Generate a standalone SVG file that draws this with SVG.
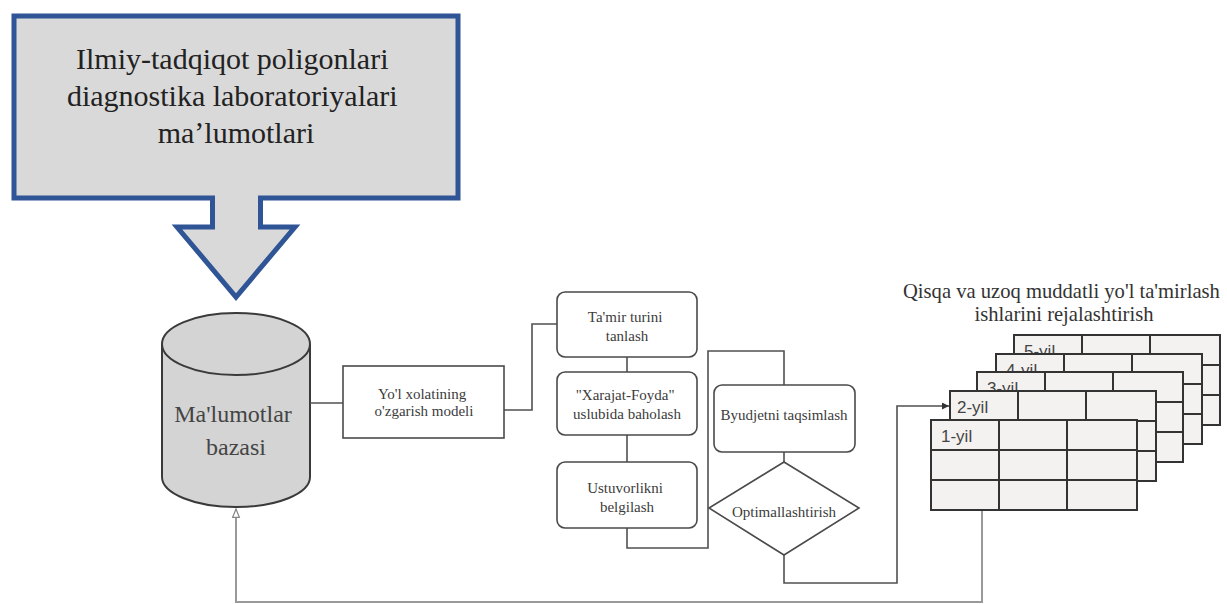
<svg xmlns="http://www.w3.org/2000/svg" xmlns:xlink="http://www.w3.org/1999/xlink" width="1227" height="604" viewBox="0 0 1227 604">
  <style>
    .serif { font-family: "Liberation Serif", "Times New Roman", serif; }
    .sans { font-family: "Liberation Sans", Arial, sans-serif; }
    .box { fill: #ffffff; stroke: #4a4a4a; stroke-width: 1.6; }
    .small { font-size: 15px; fill: #3c3c3c; text-anchor: middle; }
    .conn { fill: none; stroke: #505050; stroke-width: 1.6; }
    .feedback { fill: none; stroke: #999999; stroke-width: 2; }
    .sheet { fill: #f3f2f1; stroke: #333333; stroke-width: 2; }
    .grid { stroke: #333333; stroke-width: 2; }
    .yr { font-size: 17px; fill: #444444; }
  </style>
  <defs>
    <marker id="arrowFilled" viewBox="0 0 10 10" refX="10" refY="5" markerWidth="7" markerHeight="7" markerUnits="userSpaceOnUse" orient="auto">
      <path d="M0,0 L10,5 L0,10 Z" fill="#333333"/>
    </marker>
    <marker id="arrowOpen" viewBox="0 0 12 10" refX="11" refY="5" markerWidth="10" markerHeight="9" markerUnits="userSpaceOnUse" orient="auto">
      <path d="M1,1 L11,5 L1,9 Z" fill="#ffffff" stroke="#888888" stroke-width="1.5"/>
    </marker>
    <g id="sheet">
      <rect class="sheet" x="0" y="0" width="206" height="90"/>
      <line class="grid" x1="68" y1="0" x2="68" y2="90"/>
      <line class="grid" x1="136" y1="0" x2="136" y2="90"/>
      <line class="grid" x1="0" y1="30" x2="206" y2="30"/>
      <line class="grid" x1="0" y1="60" x2="206" y2="60"/>
    </g>
  </defs>

  <rect width="1227" height="604" fill="#ffffff"/>

  <!-- source data callout -->
  <g id="source-callout">
    <path d="M14,16 H458 V198 H260.5 V227 H295 L236,297 L177,227 H212.5 V198 H14 Z" fill="#d9d9d9" stroke="#2f5597" stroke-width="5" stroke-linejoin="miter"/>
    <text class="serif" x="236" font-size="30" fill="#222222" text-anchor="middle">
      <tspan x="236" y="69">Ilmiy-tadqiqot poligonlari</tspan>
      <tspan x="236" y="106">diagnostika laboratoriyalari</tspan>
      <tspan x="236" y="143">maʼlumotlari</tspan>
    </text>
  </g>

  <!-- database -->
  <g id="database">
    <path d="M162,344 V477 A74,30 0 0 0 310,477 V344" fill="#d4d4d4" stroke="#3a3a3a" stroke-width="2"/>
    <ellipse cx="236" cy="344" rx="74" ry="31" fill="#d4d4d4" stroke="#3a3a3a" stroke-width="2"/>
    <text class="serif" font-size="24" fill="#444444" text-anchor="middle">
      <tspan x="236" y="422">Ma'lumotlar</tspan>
      <tspan x="236" y="455">bazasi</tspan>
    </text>
  </g>

  <!-- connectors -->
  <g id="connectors">
    <path class="conn" d="M310,403 H343"/>
    <path class="conn" d="M504,410 H532 V324 H557"/>
    <path class="conn" d="M627,357 V372"/>
    <path class="conn" d="M627,435 V462"/>
    <path class="conn" d="M627,528 V548 H708 V351 H784 V385"/>
    <path class="conn" d="M784,452 V462"/>
    <path class="conn" d="M784,555 V583 H897 V406 H949" marker-end="url(#arrowFilled)"/>
    <path class="feedback" d="M982,511 V602 H236 V509" marker-end="url(#arrowOpen)"/>
  </g>

  <g id="change-model">
    <rect class="box" x="343" y="366" width="161" height="72"/>
    <text class="serif small">
      <tspan x="424" y="399">Yo'l xolatining</tspan>
      <tspan x="424" y="416">o'zgarish modeli</tspan>
    </text>
  </g>

  <g id="repair-type">
    <rect class="box" x="557" y="292" width="140" height="65" rx="8"/>
    <text class="serif small">
      <tspan x="627" y="322">Ta'mir turini</tspan>
      <tspan x="627" y="341">tanlash</tspan>
    </text>
  </g>

  <g id="cost-benefit">
    <rect class="box" x="557" y="372" width="140" height="63" rx="8"/>
    <text class="serif small">
      <tspan x="627" y="400">"Xarajat-Foyda"</tspan>
      <tspan x="627" y="419">uslubida baholash</tspan>
    </text>
  </g>

  <g id="priority">
    <rect class="box" x="557" y="462" width="140" height="66" rx="8"/>
    <text class="serif small">
      <tspan x="627" y="493">Ustuvorlikni</tspan>
      <tspan x="627" y="512">belgilash</tspan>
    </text>
  </g>

  <g id="budget">
    <rect class="box" x="714" y="385" width="141" height="67" rx="8"/>
    <text class="serif small" x="784" y="420">Byudjetni taqsimlash</text>
  </g>

  <g id="optimisation">
    <path class="box" d="M784,462 L859,508 L784,555 L709,508 Z"/>
    <text class="serif small" x="784" y="517">Optimallashtirish</text>
  </g>

  <!-- yearly plan sheets, back to front -->
  <g id="plan">
    <text class="serif" font-size="20.6" fill="#333333" text-anchor="middle">
      <tspan x="1064" y="298">Qisqa va uzoq muddatli yo'l ta'mirlash</tspan>
      <tspan x="1064" y="321">ishlarini rejalashtirish</tspan>
    </text>
    <g id="year-5">
      <use xlink:href="#sheet" x="1014" y="335"/>
      <text class="sans yr" x="1024" y="357">5-yil</text>
    </g>
    <g id="year-4">
      <use xlink:href="#sheet" x="996" y="354"/>
      <text class="sans yr" x="1006" y="376">4-yil</text>
    </g>
    <g id="year-3">
      <use xlink:href="#sheet" x="977" y="372"/>
      <text class="sans yr" x="987" y="394">3-yil</text>
    </g>
    <g id="year-2">
      <use xlink:href="#sheet" x="950" y="391"/>
      <text class="sans yr" x="957" y="413">2-yil</text>
    </g>
    <g id="year-1">
      <use xlink:href="#sheet" x="931" y="420"/>
      <text class="sans yr" x="941" y="442">1-yil</text>
    </g>
  </g>
</svg>
